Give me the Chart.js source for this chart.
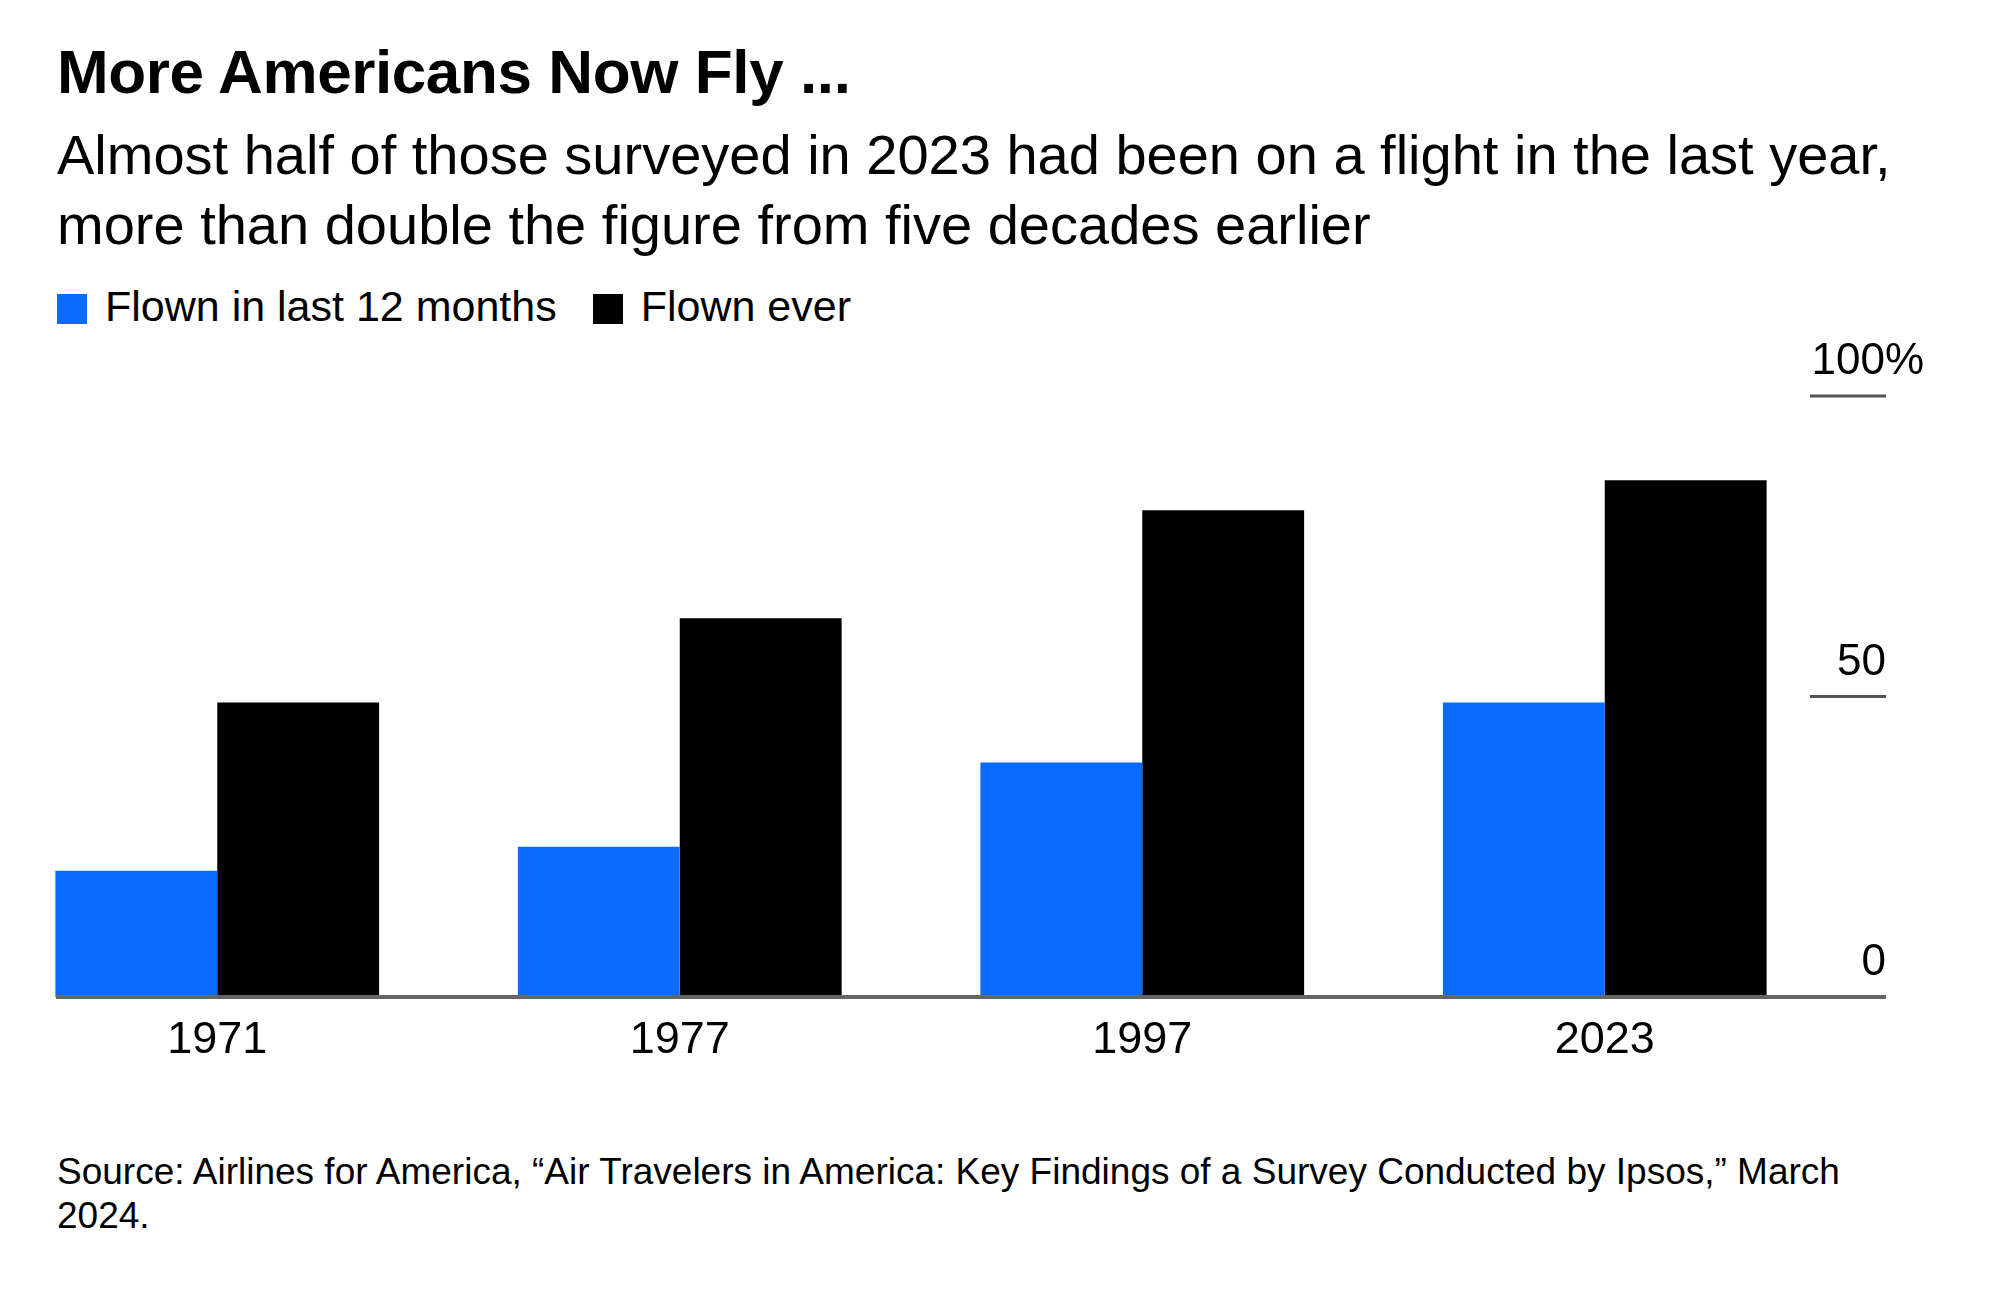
<!DOCTYPE html>
<html>
<head>
<meta charset="utf-8">
<script src="https://cdn.jsdelivr.net/npm/chart.js@4"></script>
<style>
  body { margin: 0; width: 2000px; height: 1293px; background: #fff; font-family: "Liberation Sans", Arial, sans-serif; position: relative; overflow: hidden; }
  .t { position: absolute; left: 57px; color: #000; }
  #title { top: 36px; font-size: 62px; font-weight: bold; letter-spacing: -0.4px; }
  #sub { top: 120px; font-size: 56px; line-height: 70px; white-space: nowrap; }
  #legend { top: 282px; font-size: 43px; }
  #legend span.sw { display: inline-block; width: 30px; height: 30px; margin-right: 18px; vertical-align: -3px; }
  #src { top: 1150px; font-size: 37px; line-height: 44px; width: 1880px; }
  #wrap { position: absolute; left: -14px; top: 331px; width: 1990px; height: 740px; }
</style>
</head>
<body>
<div class="t" id="title">More Americans Now Fly ...</div>
<div class="t" id="sub">Almost half of those surveyed in 2023 had been on a flight in the last year,<br>more than double the figure from five decades earlier</div>
<div class="t" id="legend"><span class="sw" style="background:#0a6cff"></span>Flown in last 12 months<span style="display:inline-block;width:36px"></span><span class="sw" style="background:#000"></span>Flown ever</div>
<div id="wrap"><canvas id="c"></canvas></div>
<div class="t" id="src">Source: Airlines for America, “Air Travelers in America: Key Findings of a Survey Conducted by Ipsos,” March 2024.</div>
<script>
var years = ["1971", "1977", "1997", "2023"];
var last12 = [21, 25, 39, 49];
var ever = [49, 63, 81, 86];
var yTicks = [0, 50, 100];
var yTickLabels = ["0", "50", "100%"];

var axisPlugin = {
  id: 'axisPlugin',
  afterDraw: function(chart) {
    var ctx = chart.ctx, y = chart.scales.y, x = chart.scales.x;
    var right = chart.chartArea.right + 50;
    ctx.save();
    ctx.font = '44px "Liberation Sans", Arial, sans-serif';
    ctx.fillStyle = '#000';
    ctx.textAlign = 'right';
    ctx.textBaseline = 'bottom';
    yTicks.forEach(function(v, i) {
      var py = y.getPixelForValue(v);
      if (v > 0) {
        ctx.strokeStyle = '#555';
        ctx.lineWidth = 3;
        ctx.beginPath(); ctx.moveTo(right - 76, py); ctx.lineTo(right, py); ctx.stroke();
      }
      ctx.fillText(yTickLabels[i], right + (i === 2 ? 38 : 0), py - 12);
    });
    var base = y.getPixelForValue(0);
    ctx.strokeStyle = '#666';
    ctx.lineWidth = 4;
    ctx.beginPath(); ctx.moveTo(chart.chartArea.left + 70, base); ctx.lineTo(right, base); ctx.stroke();
    ctx.textAlign = 'center';
    ctx.textBaseline = 'middle';
    ctx.font = '45px "Liberation Sans", Arial, sans-serif';
    years.forEach(function(lab, i) {
      ctx.fillText(lab, x.getPixelForValue(i), base + 44);
    });
    ctx.restore();
  }
};

new Chart(document.getElementById('c'), {
  type: 'bar',
  data: {
    labels: years,
    datasets: [
      { label: 'Flown in last 12 months', data: last12, backgroundColor: '#0a6cff' },
      { label: 'Flown ever', data: ever, backgroundColor: '#000' }
    ]
  },
  options: {
    responsive: true,
    maintainAspectRatio: false,
    animation: false,
    layout: { padding: { left: 0, right: 140, top: 65, bottom: 74 } },
    datasets: { bar: { categoryPercentage: 0.7, barPercentage: 1.0 } },
    plugins: { legend: { display: false }, tooltip: { enabled: false } },
    scales: {
      x: { display: false },
      y: { display: false, min: 0, max: 100 }
    }
  },
  plugins: [axisPlugin]
});
</script>
</body>
</html>
